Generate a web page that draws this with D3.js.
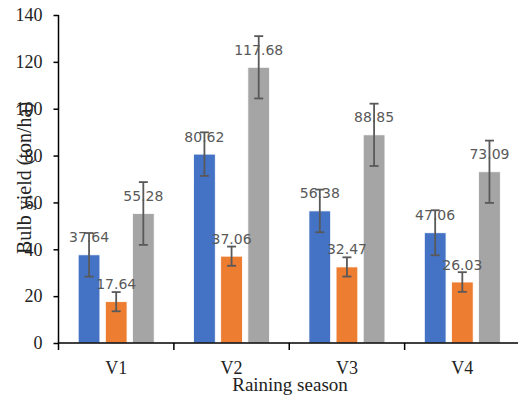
<!DOCTYPE html>
<html>
<head>
<meta charset="utf-8">
<script src="https://cdn.jsdelivr.net/npm/d3@7"></script>
<style>
  body { margin: 0; background: #fff; }
  svg { display: block; }
</style>
</head>
<body>
<svg id="chart" width="518" height="396"></svg>
<script>
var categories = ["V1", "V2", "V3", "V4"];
var seriesNames = ["s1", "s2", "s3"];
var seriesColors = ["#4472C4", "#ED7D31", "#A5A5A5"];
var values1 = [37.64, 80.62, 56.38, 47.06];
var values2 = [17.64, 37.06, 32.47, 26.03];
var values3 = [55.28, 117.68, 88.85, 73.09];
var errors1 = [9.3, 9.3, 9.1, 9.6];
var errors2 = [4.1, 4.1, 4.1, 4.2];
var errors3 = [13.4, 13.3, 13.3, 13.3];
var yTicks = [0, 20, 40, 60, 80, 100, 120, 140];

var allValues = [values1, values2, values3];
var allErrors = [errors1, errors2, errors3];

var svg = d3.select("#chart");
var plotL = 58.5, plotR = 520, plotT = 15, plotB = 343;

var x = d3.scaleBand().domain(categories).range([plotL, plotR]);
var xs = d3.scaleBand().domain(seriesNames).range([0, 76]).paddingInner(0.2);
var y = d3.scaleLinear().domain([0, 140]).range([plotB, plotT]);

// flatten data
var rows = [];
categories.forEach(function(c, i) {
	seriesNames.forEach(function(s, j) {
		rows.push({cat: c, ser: s, idx: j, v: allValues[j][i], e: allErrors[j][i]});
	});
});

function barX(d) {
	return x(d.cat) + (x.bandwidth() - 76) / 2 + xs(d.ser);
}
function barMid(d) {
	return barX(d) + xs.bandwidth() / 2;
}

var g = svg.append("g");

g.selectAll(".bar").data(rows).enter().append("rect")
	.attr("class", "bar")
	.attr("x", barX)
	.attr("y", function(d) { return y(d.v); })
	.attr("width", xs.bandwidth())
	.attr("height", function(d) { return y(0) - y(d.v); })
	.attr("fill", function(d) { return seriesColors[d.idx]; })
	.attr("stroke", "#fff")
	.attr("stroke-width", 0.8);

// data labels
g.selectAll(".lbl").data(rows).enter().append("text")
	.attr("class", "lbl")
	.attr("x", barMid)
	.attr("y", function(d) { return y(d.v) - 12.5; })
	.attr("text-anchor", "middle")
	.attr("font-family", "DejaVu Sans, sans-serif")
	.attr("font-size", "14px")
	.attr("fill", "#595959")
	.text(function(d) { return d.v.toFixed(2); });

// error bars
var eb = g.selectAll(".err").data(rows).enter().append("g").attr("class", "err")
	.attr("stroke", "#595959").attr("stroke-width", 1.8);
eb.append("line")
	.attr("x1", barMid).attr("x2", barMid)
	.attr("y1", function(d) { return y(d.v + d.e); })
	.attr("y2", function(d) { return y(d.v - d.e); });
[1, -1].forEach(function(sgn) {
	eb.append("line")
		.attr("x1", function(d) { return barMid(d) - 4.5; })
		.attr("x2", function(d) { return barMid(d) + 4.5; })
		.attr("y1", function(d) { return y(d.v + sgn * d.e); })
		.attr("y2", function(d) { return y(d.v + sgn * d.e); });
});

// y axis
var yAxis = svg.append("g")
	.attr("transform", "translate(" + plotL + ",0)")
	.call(d3.axisLeft(y).tickValues(yTicks).tickSize(5).tickPadding(11));
yAxis.select(".domain").attr("d", "M0," + plotT + "V" + (plotB + 7));
yAxis.selectAll("line, path").attr("stroke", "#000").attr("stroke-width", 1.5);
yAxis.selectAll("text")
	.attr("font-family", "Liberation Serif, Times New Roman, serif")
	.attr("font-size", "18px").attr("fill", "#222");

// x axis
var xAxis = svg.append("g")
	.attr("transform", "translate(0," + plotB + ")")
	.call(d3.axisBottom(x).tickSize(0).tickPadding(18));
xAxis.select(".domain").attr("d", "M" + plotL + ",0H" + plotR);
xAxis.selectAll("path").attr("stroke", "#000").attr("stroke-width", 1.5);
xAxis.selectAll("text")
	.attr("font-family", "Liberation Serif, Times New Roman, serif")
	.attr("font-size", "18px").attr("fill", "#222");
xAxis.selectAll(".sep").data(categories.slice(1)).enter().append("line")
	.attr("class", "sep")
	.attr("x1", function(c) { return x(c); })
	.attr("x2", function(c) { return x(c); })
	.attr("y1", 0).attr("y2", 7)
	.attr("stroke", "#000").attr("stroke-width", 1.5);

// titles
svg.append("text")
	.attr("x", 290).attr("y", 391)
	.attr("text-anchor", "middle")
	.attr("font-family", "Liberation Serif, Times New Roman, serif")
	.attr("font-size", "19px").attr("fill", "#222")
	.text("Raining season");

svg.append("text")
	.attr("transform", "translate(31,178) rotate(-90)")
	.attr("text-anchor", "middle")
	.attr("font-family", "Liberation Serif, Times New Roman, serif")
	.attr("font-size", "20px").attr("fill", "#222")
	.text("Bulb yield (ton/ha)");
</script>
</body>
</html>
